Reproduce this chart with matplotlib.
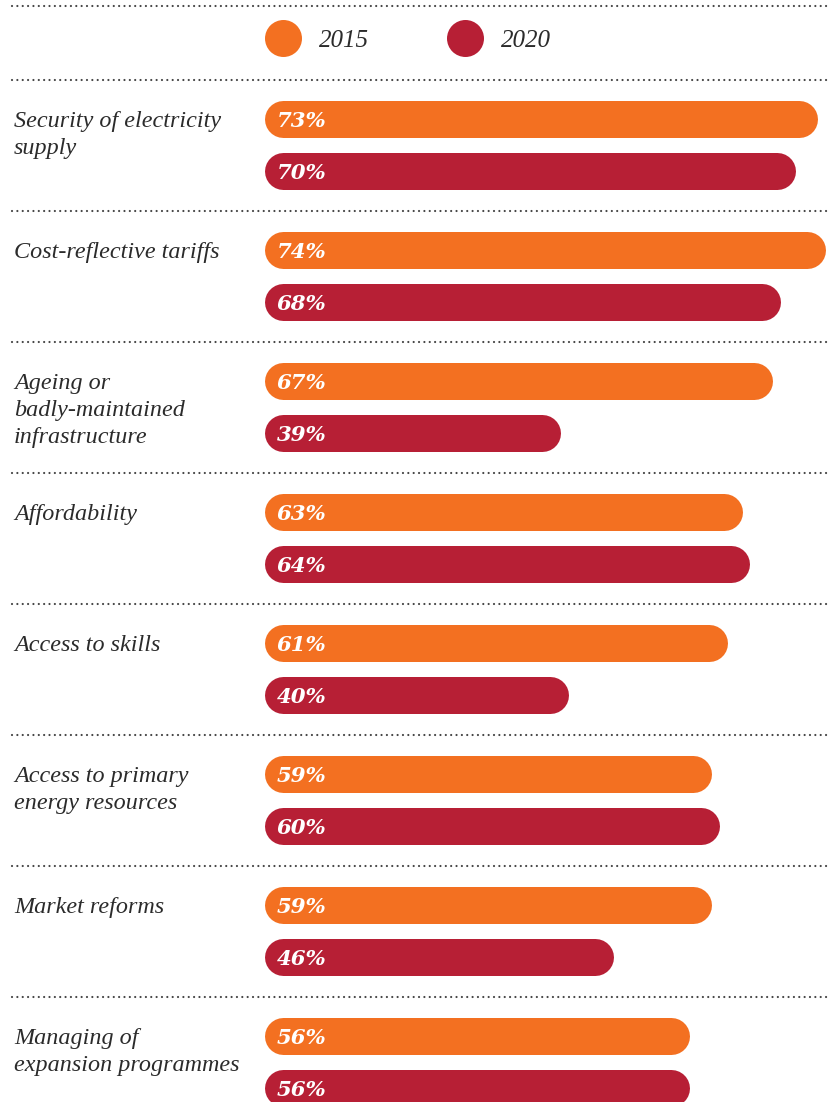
import matplotlib.pyplot as plt
from matplotlib.lines import Line2D
from matplotlib.transforms import blended_transform_factory

categories = ['Security of electricity\nsupply',
              'Cost-reflective tariffs',
              'Ageing or\nbadly-maintained\ninfrastructure',
              'Affordability',
              'Access to skills',
              'Access to primary\nenergy resources',
              'Market reforms',
              'Managing of\nexpansion programmes']
vals_2015 = [73, 74, 67, 63, 61, 59, 59, 56]
vals_2020 = [70, 68, 39, 64, 40, 60, 46, 56]
years = ['2015', '2020']

orange = '#F37021'
red = '#B71F35'
txt = '#2b2b2b'
serif = 'Liberation Serif'

W, H = 829, 1102
DPI = 100
fig = plt.figure(figsize=(W / DPI, H / DPI), dpi=DPI)

# axes: x in percent, y in group units (one group per category)
px_per_pct = 7.575
group_px = 131.0
ax_left, ax_top = 265, 80
ax = fig.add_axes([ax_left / W, 0, (W - ax_left) / W, (H - ax_top) / H])
ax.set_xlim(0, (W - ax_left) / px_per_pct)
ax.set_ylim((H - ax_top) / group_px, 0)
ax.axis('off')

bar_px = 37
off_2015 = 39 / group_px
off_2020 = 91 / group_px
rad = bar_px / 2 / px_per_pct
lw_pt = bar_px * 72 / DPI
base_off = 8 / group_px
line_step = 27 / group_px


def rbar(y, v, color):
    # thick line with round caps -> pill shaped bar from 0 to v
    ax.plot([rad, v - rad], [y, y], color=color, lw=lw_pt,
            solid_capstyle='round')
    ax.annotate('%d%%' % v, (0, y + base_off), xytext=(8.5, 0),
                textcoords='offset points', color='white', fontsize=15.3,
                fontweight='bold', style='italic', family='DejaVu Serif',
                va='baseline', ha='left')


dots = dict(color='#444444', lw=1.6, linestyle=(0, (0.01, 2.4)),
            dash_capstyle='round')
trans = blended_transform_factory(fig.transFigure, ax.transData)
for k, cat in enumerate(categories):
    rbar(k + off_2015, vals_2015[k], orange)
    rbar(k + off_2020, vals_2020[k], red)
    # separator above each group
    ax.plot([12 / W, 1], [k, k], transform=trans, clip_on=False, **dots)
    for i, line in enumerate(cat.split('\n')):
        ax.text(14 / W, k + off_2015 + base_off + i * line_step, line,
                transform=trans, ha='left', va='baseline', fontsize=17.4,
                style='italic', family=serif, color=txt)

# top dotted line
fig.add_artist(Line2D([12 / W, 1], [1 - 6 / H, 1 - 6 / H], **dots))

handles = [Line2D([], [], marker='o', ls='none', markersize=lw_pt,
                  markerfacecolor=c, markeredgecolor='none')
           for c in (orange, red)]
fig.legend(handles, years, loc='center left',
           bbox_to_anchor=(265 / W, 1 - 40.5 / H),
           ncol=2, frameon=False, handletextpad=0.68, columnspacing=3.1,
           prop={'family': serif, 'style': 'italic', 'size': 18},
           labelcolor=txt, borderpad=0, borderaxespad=0, handlelength=1.48)

fig.savefig('out.png', dpi=DPI, facecolor='white')
